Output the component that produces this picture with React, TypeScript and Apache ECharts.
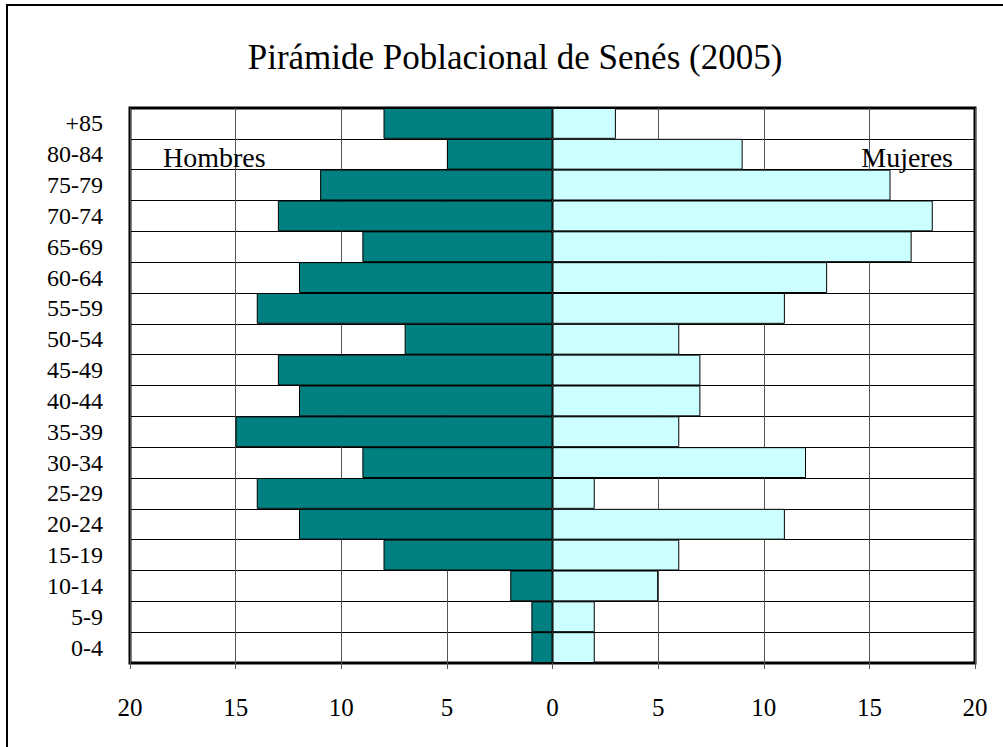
import React, { useEffect, useRef } from "react";
import * as echarts from "echarts";

const categories = ["0-4", "5-9", "10-14", "15-19", "20-24", "25-29", "30-34", "35-39", "40-44", "45-49", "50-54", "55-59", "60-64", "65-69", "70-74", "75-79", "80-84", "+85"];
const hombres = [1, 1, 2, 8, 12, 14, 9, 15, 12, 13, 7, 14, 12, 9, 13, 11, 5, 8];
const mujeres = [2, 2, 5, 6, 11, 2, 12, 6, 7, 7, 6, 11, 13, 17, 18, 16, 9, 3];
const titleText = "Pirámide Poblacional de Senés (2005)";
const FONT = "'Liberation Serif', 'Times New Roman', serif";

export default function App() {
  const ref = useRef<HTMLDivElement>(null);
  useEffect(() => {
    if (!ref.current) return;
    const chart = echarts.init(ref.current, null, { renderer: "svg" });
    chart.setOption({
      animation: false,
      backgroundColor: "#fff",
      textStyle: { fontFamily: FONT },
      title: {
        text: titleText,
        left: 510,
        top: 35,
        textAlign: "center",
        textStyle: { fontFamily: FONT, fontSize: 35, fontWeight: "normal", color: "#000" },
      },
      graphic: [
        { type: "rect", shape: { x: 7, y: 5, width: 1100, height: 800 }, style: { fill: "none", stroke: "#000", lineWidth: 2 }, z: 100 },
        { type: "text", x: 163, y: 157, style: { text: "Hombres", fontFamily: FONT, fontSize: 28, fill: "#000", verticalAlign: "middle" }, z: 100 },
        { type: "text", x: 953, y: 157, style: { text: "Mujeres", fontFamily: FONT, fontSize: 28, fill: "#000", align: "right", verticalAlign: "middle" }, z: 100 },
      ],
      grid: { left: 130, right: 28, top: 108, bottom: 84, show: true, borderColor: "#000", borderWidth: 3, backgroundColor: "#fff" },
      xAxis: {
        type: "value",
        min: -20,
        max: 20,
        interval: 5,
        axisLine: { show: false },
        axisTick: { show: true, length: 6, lineStyle: { color: "#555" } },
        axisLabel: { formatter: (v: number) => String(Math.abs(v)), fontFamily: FONT, fontSize: 25, color: "#000", margin: 32 },
        splitLine: { show: true, lineStyle: { color: "#555", width: 1 } },
      },
      yAxis: {
        type: "category",
        data: categories,
        axisLine: { show: false },
        axisTick: { show: false, interval: 0 },
        axisLabel: { interval: 0, hideOverlap: false, fontFamily: FONT, fontSize: 24, color: "#000", margin: 27 },
        splitLine: { show: true, interval: 0, lineStyle: { color: "#000", width: 1 } },
      },
      series: [
        {
          name: "Hombres",
          type: "bar",
          data: hombres.map((v) => -v),
          barGap: "-100%",
          barCategoryGap: "0%",
          itemStyle: { color: "#008080", borderColor: "#000", borderWidth: 1 },
        },
        {
          name: "Mujeres",
          type: "bar",
          data: mujeres,
          barGap: "-100%",
          barCategoryGap: "0%",
          itemStyle: { color: "#CCFFFF", borderColor: "#000", borderWidth: 1 },
        },
      ],
    });
    return () => chart.dispose();
  }, []);
  return (
    <div
      ref={ref}
      style={{ position: "fixed", left: 0, top: 0, width: 1003, height: 747, overflow: "hidden", background: "#fff" }}
    />
  );
}
